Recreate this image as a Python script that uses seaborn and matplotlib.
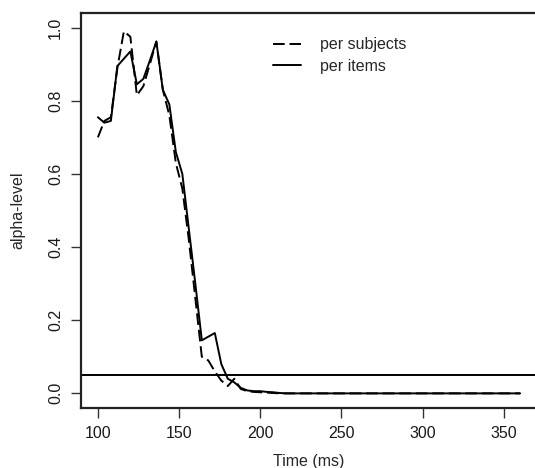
import numpy as np
import pandas as pd
import matplotlib
matplotlib.use("Agg")
import matplotlib.pyplot as plt
import seaborn as sns

# Dane
time_ms = [100, 104, 108, 112, 116, 120, 124, 128, 132, 136, 140, 144, 148, 152,
           156, 160, 164, 168, 172, 176, 180, 184, 188, 192, 196, 200, 204, 208,
           212, 216, 240, 280, 320, 360]
per_subjects = [0.700, 0.745, 0.755, 0.890, 0.990, 0.975, 0.815, 0.840, 0.900, 0.962,
                0.830, 0.760, 0.630, 0.560, 0.420, 0.260, 0.100, 0.090, 0.060, 0.035,
                0.020, 0.040, 0.012, 0.006, 0.004, 0.003, 0.002, 0.001, 0.0, 0.0,
                0.0, 0.0, 0.0, 0.0]
per_items = [0.755, 0.740, 0.745, 0.895, 0.915, 0.935, 0.845, 0.860, 0.910, 0.962,
             0.830, 0.790, 0.660, 0.600, 0.450, 0.300, 0.145, 0.155, 0.165, 0.080,
             0.040, 0.030, 0.015, 0.008, 0.006, 0.006, 0.004, 0.003, 0.001, 0.0,
             0.0, 0.0, 0.0, 0.0]
alpha_crit = 0.05
x_ticks = [100, 150, 200, 250, 300, 350]
y_ticks = [0.0, 0.2, 0.4, 0.6, 0.8, 1.0]

df = pd.DataFrame({
    "Time": time_ms * 2,
    "alpha": per_subjects + per_items,
    "series": ["per subjects"] * len(time_ms) + ["per items"] * len(time_ms),
})

sns.set_style("ticks")
plt.rcParams["font.family"] = ["Liberation Sans", "DejaVu Sans"]
plt.rcParams["font.size"] = 11.5

fig = plt.figure(figsize=(5.35, 4.68), dpi=100)
ax = fig.add_axes([81 / 535, 60 / 468, 456 / 535, 395 / 468])

sns.lineplot(data=df, x="Time", y="alpha", style="series",
             dashes={"per subjects": (6, 2.5), "per items": ""},
             color="black", linewidth=1.4, ax=ax)
ax.axhline(alpha_crit, color="black", linewidth=1.4)

ax.set_xlim(89.6, 370.4)
ax.set_ylim(-0.04, 1.04)
ax.set_xticks(x_ticks)
ax.set_yticks(y_ticks)
ax.set_yticklabels([f"{v:.1f}" for v in y_ticks], rotation=90, va="center")
ax.tick_params(direction="out", length=7, width=1, pad=6, labelsize=11.5,
               color="#333333", labelcolor="#1a1a1a")
ax.set_xlabel("Time (ms)", fontsize=11.5, labelpad=9)
ax.set_ylabel("alpha-level", fontsize=11.5, labelpad=16)
for s in ax.spines.values():
    s.set_linewidth(1.6)
    s.set_color("#222222")

leg = ax.legend(frameon=False, loc="upper left", bbox_to_anchor=(0.39, 0.975),
                fontsize=11.5, handlelength=1.75, handletextpad=1.2,
                labelspacing=0.4)
for h in leg.get_lines():
    h.set_linewidth(1.4)

fig.savefig("out.png", dpi=100)
